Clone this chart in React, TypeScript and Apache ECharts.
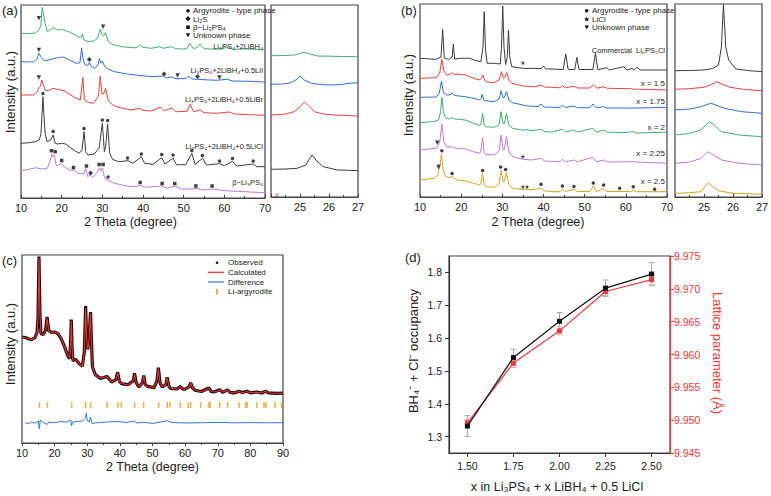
import React, { useEffect, useRef } from 'react';
import * as echarts from 'echarts';

const FONT = '"Liberation Sans", Arial, Helvetica, sans-serif';

// ---------- colours ----------
const GREEN = '#3fb06a';
const BLUE = '#2f6fd6';
const RED = '#e8423f';
const DARK = '#3c3c3c';
const PURPLE = '#bb7ad8';
const GOLD = '#d6a322';

// ---------- panel (a): 2θ vs intensity (a.u., offset stacked) ----------
const aLiBH4 = [[10,164.7],[12,164.5],[13.5,165],[14.2,167],[14.6,170],[14.9,173],[15.2,190.7],[15.5,185],[15.9,174.7],[16.5,166.3],[17.3,168.5],[18,170.3],[19,168],[20,168.7],[21,167.3],[22,165.7],[23,163.7],[24,161.3],[24.8,160.7],[25.1,164],[25.5,158],[26,157],[27,156.3],[28,157.3],[28.8,159.7],[29.5,168.7],[30.0,163],[30.3,162],[30.8,165.3],[31.5,156.3],[32,154.7],[33,153],[35,151.3],[37,150.3],[38.5,150.3],[39.2,153],[40,150.7],[42,149.7],[44.2,151.3],[45,149.7],[47,151.3],[48,149.3],[50,149],[50.8,149.5],[51.5,154.7],[52.3,149.7],[53.2,150],[54,154],[55,149.3],[58,148.7],[61,150.7],[62,148.7],[66,149],[70,148]];
const aLiI = [[10,136.3],[13,136],[13.9,138.7],[14.4,144.7],[15,140.7],[15.6,137.7],[16.5,137.7],[18,139.3],[19.5,140.7],[20.5,140.7],[22,138],[23.5,134.7],[24.5,135.3],[24.9,149.7],[25.3,138],[25.8,133],[26.4,132.7],[26.8,135.3],[27.3,131.3],[28.2,129.7],[28.9,133],[29.3,139.3],[29.6,134.7],[30.0,137],[30.6,131.3],[31.5,128.7],[33,126.3],[36,124],[39,122.7],[42,121.3],[45,122],[45.5,120],[47,121],[48,119.3],[50.5,119.5],[51.3,121.7],[52,119],[55,118.3],[58,117.7],[60.7,118.7],[62,117],[66,116.7],[70,116]];
const aLiBr = [[10,103],[13,103],[14,106.3],[14.5,110.7],[14.8,112],[15.1,118],[15.5,113],[16,107.3],[17,108],[17.9,109.7],[19,108.7],[20.5,107.3],[22,103.7],[23.5,99.7],[24.6,98],[25.2,120.7],[25.6,98],[26.5,95.7],[27.8,94.7],[29.0,101.3],[29.5,122],[29.9,104],[30.4,104.7],[30.8,109.7],[31.4,98],[32.5,93],[34,90.7],[37,88],[39.2,89.7],[40,87.7],[42,87],[44.3,91],[45.2,87.3],[47.1,90],[48,86.3],[50.8,86.7],[51.6,93.7],[52.4,86.3],[54,88],[55,85.3],[58,84.7],[61.3,86],[62.5,84],[66,83.3],[70,82.7]];
const aLiCl = [[10,54.7],[12,55.3],[13.5,56.3],[14.5,58],[14.9,64],[15.15,82],[15.4,101.3],[15.65,82],[15.95,64],[16.4,56.3],[17.3,58],[17.9,63],[18.4,54.7],[19,54],[20,54.7],[21,54],[22,50.7],[23,48],[24.3,44.7],[25.0,48],[25.5,66.3],[25.9,46.3],[26.5,43],[28,44],[29.2,49.7],[30.0,74.7],[30.5,46.3],[30.8,51.3],[31.3,74],[31.8,44.7],[32.5,38.7],[34,36.3],[36.3,37.3],[37.5,34.7],[39.6,41.3],[40.4,34.7],[42.5,33.7],[44.6,40.3],[45.4,34],[47.4,40],[48.2,33.3],[50.5,33.3],[52.0,44.7],[52.8,33.7],[54.7,39.7],[55.6,33],[58.8,34.3],[60,32.3],[62,36.7],[63,32],[67.1,34],[68,31.3],[70,31.3]];
const aBeta = [[10,27.3],[12,28.7],[13.6,30.3],[15,29],[16.5,29.7],[17.2,38],[17.6,43.7],[17.9,41.3],[18.2,43],[18.7,32],[19.3,33],[19.9,34.7],[20.6,31.3],[22,28],[23,28],[24,24.7],[25.4,24],[25.9,29.7],[26.4,21.3],[27,23],[27.6,20.7],[28.6,24.7],[29.3,30.3],[29.6,27.3],[30.0,30],[30.6,19.7],[31.3,18],[33,14.7],[36,12],[38,11.3],[39.2,12.7],[40.5,10.7],[44.6,12],[46,9.7],[47.9,12],[49.5,8.7],[53,9.5],[55,8],[57.1,9],[60,7.3],[65,6.3],[70,5.3]];
const aCircleMarks = [[15.4,104.5],[17.9,66.5],[25.5,69.5],[30.0,78],[31.3,77.5],[36.2,40],[39.6,44],[44.6,43.5],[47.4,43],[52.0,47.5],[54.6,42.5],[58.8,37],[62,39.5],[67.1,37],[31.4,21]];
const aDiamondMarks = [[26.8,138.5],[45.2,124],[53.4,121.5],[27.1,25]];
const aSquareMarks = [[17.5,47.3],[18.4,46.3],[20.0,37.5],[22.9,30.5],[26.1,32],[29.2,33.5],[30.2,33.5],[39.3,15.5],[44.7,14.5],[47.8,14.5],[53.0,12],[57.0,12]];
const aTriangleMarks = [[14.4,179.7],[30.2,171.3],[14.4,148],[48.5,122.5],[58.8,120.5],[14.4,120.5]];
const aInsetLiBH4 = [[24,141.3],[24.5,141.5],[24.8,142],[25.0,143.5],[25.15,144.7],[25.3,143.5],[25.6,141],[26,140.8],[26.5,140.5],[27,140.3]];
const aInsetLiI = [[24,112.7],[24.4,113],[24.7,114.3],[24.9,118],[25.0,121],[25.15,117],[25.4,113.7],[25.7,112.5],[26,112],[26.4,112.5],[26.7,113.7],[27,114.3]];
const aInsetLiBr = [[24,82],[24.5,83],[24.8,85.3],[25.0,90],[25.15,95.3],[25.3,91],[25.5,85.3],[25.8,83],[26.2,82],[26.6,81.5],[27,81]];
const aInsetLiCl = [[24,27.7],[24.5,28],[24.9,28.7],[25.2,32],[25.3,37],[25.42,42],[25.55,37],[25.8,30.3],[26.3,27],[26.7,26.7],[27,26.3]];

// ---------- panel (b) ----------
const bCommercial = [[10,138.7],[14,137.7],[15.1,140],[15.5,167.7],[15.9,139],[17,137.5],[17.8,140],[18.1,153],[18.4,138],[20,138.7],[22,138.7],[23.5,136.5],[24.8,135.3],[25.3,150],[25.6,185.3],[25.9,148],[26.3,133.7],[28,133.7],[29.5,133],[29.8,150],[30.1,191],[30.4,150],[30.8,132.5],[31.2,140],[31.5,167],[31.8,140],[32.3,130.3],[35,128.7],[39.5,128.5],[40,131],[40.5,128.2],[44.8,127.5],[45.4,143],[46,127.5],[47.6,127.5],[48.1,139.7],[48.6,127.5],[52,127.5],[52.6,143.7],[53.2,127.3],[55.4,129.3],[56,127],[59.5,130.3],[60.2,127],[61.5,128.5],[62.1,127.2],[62.7,129.7],[63.5,127],[70,127]];
const bX150 = [[10,118.7],[14,119.3],[14.8,124],[15.3,137.7],[15.8,126],[16.5,122],[17.3,122.5],[17.8,124.3],[18.4,122.5],[19,123],[21,122],[23,118.7],[24.5,117],[24.9,119],[25.3,122],[25.7,117],[26,115.3],[28,114.3],[29.2,117],[29.8,125.3],[30.3,118.7],[30.6,119.5],[31.1,124.3],[31.6,117],[32.3,113.7],[35,111],[38,110.3],[39.5,112],[40.3,109.8],[42,109.7],[44,109.3],[44.6,111.3],[45.3,109.2],[47.4,110.7],[48.2,109],[51.3,109],[52.1,112.3],[53,108.8],[54.6,110.3],[55.5,108.7],[61.1,108.3],[62,107.8],[66,107.5],[70,107]];
const bX175 = [[10,99.7],[14,100],[14.7,104],[15.2,116],[15.7,104],[16.5,102],[17.3,102.3],[17.8,103.7],[18.4,101.5],[19.5,101],[21,100.3],[23,98.7],[24.5,97],[24.8,98.5],[25.1,102.7],[25.5,97],[26,96.3],[28,95.3],[29.2,98],[29.7,106.3],[30.2,99],[30.5,99.5],[31.0,105.3],[31.6,97],[32.5,94.3],[36,91],[38.7,90.5],[39.4,93],[40.2,90],[42,89.7],[44,89.5],[44.6,92],[45.3,89.5],[47.4,91],[48.2,89.3],[51.3,89.3],[52.0,93],[52.8,89.2],[54.6,90.3],[55.5,89],[62,88.9],[69.6,89.6],[70,88.7]];
const bX200 = [[10,74.3],[13.5,75.5],[14.5,77],[15.0,85],[15.3,99.7],[15.7,85],[16.2,79],[17.2,78],[17.8,79.3],[18.4,78],[19.5,77.7],[21,77],[23,73.7],[24.5,71.3],[24.8,73],[25.2,83.7],[25.6,72],[26,70.3],[28,69.7],[29.2,72],[29.7,85.3],[30.2,73],[30.5,73.5],[31.0,83.7],[31.6,72],[32.5,68.7],[35,66.8],[36,67.5],[37,66.3],[39.4,67.7],[40.2,65.5],[42,65],[44.6,67.7],[45.4,65],[47.4,67],[48.2,64.9],[52.0,68.7],[52.8,64.8],[54.6,67],[55.5,64.8],[58.6,64.5],[60,64.5],[61.8,65.3],[62.6,64],[69.7,64.8],[70,63.7]];
const bX225 = [[10,47],[14,48.7],[14.8,55],[15.3,73],[15.8,55],[16.4,50.3],[17.2,50],[17.8,50.3],[18.4,49],[19,48.7],[21,48],[23,45.3],[24.5,43.7],[24.8,46],[25.2,59.7],[25.6,44],[26,42.7],[28,42],[29.2,46],[29.7,62],[30.2,47],[30.5,47.5],[31.0,60.3],[31.6,45],[32.5,40.3],[35,37.7],[37,37],[39.4,38.7],[40.2,36],[42,35.7],[44,35.3],[44.6,37.7],[45.4,35.3],[47.4,37],[48.2,35.2],[52.0,39.7],[52.8,35.2],[54.6,37],[55.5,35],[61.8,35.3],[65,34.5],[70,33.7]];
const bX250 = [[10,17],[13.5,18.7],[14.3,22],[14.6,27],[14.9,33],[15.2,43],[15.6,28],[16.2,20.3],[17.2,19.5],[17.8,20.5],[18.4,18.5],[19,17],[21,16],[23,13.7],[24.5,12],[24.8,14],[25.2,23.7],[25.6,12],[26,10.3],[28,9.7],[29.2,13],[29.7,27],[30.2,15],[30.5,15.5],[31.0,24.3],[31.6,12.5],[32.5,8.7],[35,7.5],[36,7.8],[37,7],[39.4,9],[40.2,6.3],[42,5.3],[44,5.3],[44.6,8],[45.4,5.5],[47.4,7.7],[48.2,5.5],[51.3,5.5],[52.1,11],[52.8,5.5],[54.6,8.7],[55.4,5.5],[61.1,5.5],[61.8,7],[62.5,5.3],[70,5.3]];
const bCircleMarks = [[15.3,46.3],[17.8,23.5],[25.2,26.5],[29.6,30],[30.8,27.5],[39.4,12.7],[44.6,11],[47.4,10.5],[52.1,14],[54.6,12],[58.5,8.7],[61.8,10.3],[67,7.7]];
const bStarMarks = [[35,134.3],[35,40.5],[35,10.3],[36,10.3]];
const bTriangleMarks = [[14.2,54.3],[14.5,30]];
const bInsetCommercial = [[24,126.3],[24.5,126.5],[25.0,127],[25.3,128.5],[25.5,132],[25.6,150],[25.67,192.5],[25.75,150],[25.85,137],[26.1,128],[26.5,126.5],[27,125.3]];
const bInsetX150 = [[24,107.7],[24.5,108.3],[25.0,109.7],[25.25,112.5],[25.45,115.3],[25.65,112.5],[25.9,109.7],[26.4,107.5],[27,106.3]];
const bInsetX175 = [[24,87],[24.5,88],[24.9,90.3],[25.1,92.5],[25.25,93.7],[25.45,91.5],[25.7,88.7],[26.3,85.3],[27,83.7]];
const bInsetX200 = [[24,62],[24.5,63.5],[24.9,67],[25.1,73],[25.2,75],[25.35,72],[25.6,65.3],[26.2,62],[27,60.3]];
const bInsetX225 = [[24,33.7],[24.5,35],[24.9,38.7],[25.05,43],[25.15,45.3],[25.3,42.5],[25.6,37],[26.2,33.7],[27,32]];
const bInsetX250 = [[24,3.7],[24.5,4.3],[24.9,5.3],[25.05,11],[25.15,14.3],[25.3,10.5],[25.5,6.3],[26,3.7],[27,2.7]];

// ---------- panel (c): Rietveld ----------
const cObserved = [[10,106],[11,105.5],[12,104.3],[13,103.3],[14,105.5],[14.6,110.5],[14.9,126],[15.2,186.5],[15.5,131],[15.8,109.5],[16.5,108.3],[17.2,112.5],[17.7,126],[18.2,112.3],[19,110.6],[20,111],[21,109.4],[22,104.4],[23,96.6],[24,87.6],[24.6,84.3],[24.9,101],[25.1,123.5],[25.35,95.5],[25.6,82.6],[26.5,83.4],[27.5,79.4],[28.5,76.6],[29.1,91],[29.5,137],[29.8,106],[30.1,93.5],[30.5,101],[31.0,131],[31.3,101],[31.6,76],[32.5,68.3],[34,64.4],[36,66.6],[37.5,61],[38.8,63.3],[39.3,70.8],[39.9,61.3],[40.5,59.4],[42.5,58.3],[44.1,62.3],[44.5,69.6],[45.0,60.3],[45.8,56],[46.9,60.3],[47.3,67.4],[47.8,58.2],[48.5,56.6],[50.5,55.4],[51.4,62.3],[51.8,75.3],[52.3,60.3],[53,56],[54.1,58.3],[54.5,65.8],[55,57.2],[55.5,54.5],[57.5,54],[58.6,56.6],[59.3,53.8],[60,53.9],[61.2,56.2],[61.7,60.2],[62.3,55.2],[63,52.8],[65,51.5],[67.3,55],[68,51.3],[69,51.2],[70.7,53.2],[71.5,50.6],[73,53.2],[73.8,50.7],[75,50.1],[76.5,51.7],[77.5,50.5],[79,51.7],[80,50.1],[82,51],[83.5,50],[84.6,51.9],[85.5,50.2],[88,49.6],[90,49.9]];
const cCalculated = [[10,105.7],[11,105.2],[12,104.7],[13,103],[14,105.7],[14.6,110],[14.9,125],[15.2,184.7],[15.5,130],[15.8,109.7],[16.5,108],[17.2,112],[17.7,124.7],[18.2,112],[19,110.3],[20,111.3],[21,109.7],[22,104.7],[23,96.3],[24,88],[24.6,84.7],[24.9,100],[25.1,122.3],[25.35,95],[25.6,83],[26.5,83],[27.5,79.7],[28.5,76.3],[29.1,90],[29.5,134.7],[29.8,105],[30.1,93],[30.5,100],[31.0,129.7],[31.3,100],[31.6,76.3],[32.5,68],[34,64.7],[36,66.3],[37.5,61.3],[38.8,63],[39.3,70.3],[39.9,61],[40.5,59.7],[42.5,58],[44.1,62],[44.5,69],[45.0,60],[45.8,56.3],[46.9,60],[47.3,67],[47.8,58],[48.5,56.3],[50.5,55.7],[51.4,62],[51.8,74.7],[52.3,60],[53,56.3],[54.1,58],[54.5,65.3],[55,57],[55.5,54.7],[57.5,53.7],[58.6,56.3],[59.3,54],[60,53.7],[61.2,56],[61.7,59.7],[62.3,55],[63,53],[65,51.3],[67.3,54.7],[68,51.5],[69,51],[70.7,53],[71.5,50.8],[73,53],[73.8,50.5],[75,50.3],[76.5,51.5],[77.5,50.3],[79,51.5],[80,50.3],[82,50.8],[83.5,50.2],[84.6,51.7],[85.5,50],[88,49.8],[90,49.7]];
const cDifference = [[11,20],[12,19.5],[13,21],[14,19.8],[15,22],[15.3,14],[15.6,23],[16.5,20.5],[17.7,18.5],[18.2,21],[20,20.3],[22,21.5],[23.5,20.8],[25,23],[25.2,17],[25.5,21],[27,21.5],[28.5,22],[29.5,25],[29.7,30],[30.0,22],[30.6,21],[31.0,26],[31.4,19.5],[33,20.3],[36,21],[39.3,21.5],[42,20.5],[44.5,22],[45,20],[47.3,20.8],[50,19.5],[54.5,22.3],[56,20.5],[60,20],[65,20.3],[70,20.6],[75,20.2],[80,20.4],[85,20.2],[90,20.4]];
const cReflections = [15.31,17.76,25.22,29.51,31.04,36.05,39.42,40.44,44.52,47.28,51.88,54.53,55.35,58.52,60.97,61.69,64.75,67.2,67.71,70.57,73.02,76.49,78.54,79.05,82.01,84.16,84.77,87.53,89.57];
const cReflectionLevel = 38;

// ---------- panel (d) ----------
const dX = [1.5, 1.75, 2.0, 2.25, 2.5];
const dOccupancy = [1.332, 1.541, 1.651, 1.752, 1.795];
const dOccupancyErr = [0.032, 0.025, 0.027, 0.025, 0.035];
const dLattice = [9.9496, 9.9587, 9.9636, 9.9696, 9.9714];
const dLatticeErr = [0.0005, 0.0007, 0.0006, 0.0006, 0.0008];
const dXTicks = [1.5, 1.75, 2.0, 2.25, 2.5];
const dOccTicks = [1.3, 1.4, 1.5, 1.6, 1.7, 1.8];

const STAR = 'path://M50,0 L61,35 98,35 68,57 79,91 50,70 21,91 32,57 2,35 39,35 Z';

function line(data: number[][], color: string, g: number, width = 1, z = 2) {
  return {
    type: 'line', xAxisIndex: g, yAxisIndex: g, data, showSymbol: false, symbol: 'none',
    lineStyle: { color, width }, itemStyle: { color }, silent: true, z,
  };
}
function marks(data: number[][], symbol: string, size: number | number[], g: number, rotate = 0, color = '#111') {
  return {
    type: 'scatter', xAxisIndex: g, yAxisIndex: g, data, symbol, symbolSize: size, symbolRotate: rotate,
    itemStyle: { color }, silent: true, z: 5,
  };
}
function txt(x: number, y: number, text: string, size: number, align = 'left', fill = '#222', rotation = 0) {
  return {
    type: 'text', x, y, rotation, silent: true, z: 10,
    style: {
      text, fill, font: `${size}px ${FONT}`, fontSize: size, fontFamily: FONT,
      align, verticalAlign: 'middle', textAlign: align, textVerticalAlign: 'middle',
    },
  };
}

const axisFont = { fontFamily: FONT, color: '#222' };

function xThetaAxis(g: number, min: number, max: number, interval: number, hideBelow?: number) {
  return {
    type: 'value', gridIndex: g, min, max, interval,
    axisLine: { show: true, lineStyle: { color: '#444', width: 1.2 } },
    axisTick: { show: true, inside: true, length: 3, lineStyle: { color: '#444' } },
    minorTick: { show: true, splitNumber: 2, length: 2, lineStyle: { color: '#444' } },
    splitLine: { show: false }, minorSplitLine: { show: false },
    axisLabel: {
      ...axisFont, fontSize: 11, margin: 4,
      formatter: (v: number) => (hideBelow !== undefined && v < hideBelow ? '' : String(v)),
    },
  };
}
function hiddenY(g: number, max: number) {
  return { type: 'value', gridIndex: g, min: 0, max, show: false, splitLine: { show: false } };
}
function grid(left: number, top: number, width: number, height: number) {
  return {
    left, top, width, height, show: true, borderColor: '#444', borderWidth: 1.2,
    containLabel: false, outerBoundsMode: 'none',
  };
}

function errorBars(data: number[][], color: string, xi: number, yi: number) {
  return {
    type: 'custom', xAxisIndex: xi, yAxisIndex: yi, data, silent: true, z: 1,
    encode: { x: 0, y: 1 },
    renderItem: (_p: any, api: any) => {
      const x = api.value(0), y = api.value(1), e = api.value(2);
      const a = api.coord([x, y + e]);
      const b = api.coord([x, y - e]);
      const w = 3;
      const st = { stroke: color, lineWidth: 1 };
      return {
        type: 'group',
        children: [
          { type: 'line', shape: { x1: a[0], y1: a[1], x2: b[0], y2: b[1] }, style: st },
          { type: 'line', shape: { x1: a[0] - w, y1: a[1], x2: a[0] + w, y2: a[1] }, style: st },
          { type: 'line', shape: { x1: b[0] - w, y1: b[1], x2: b[0] + w, y2: b[1] }, style: st },
        ],
      };
    },
  };
}

export default function App() {
  const ref = useRef<HTMLDivElement>(null);
  useEffect(() => {
    if (!ref.current) return;
    const chart = echarts.init(ref.current, undefined, { renderer: 'svg' });
    const D_RED = '#f03a3a';
    const option: any = {
      animation: false,
      backgroundColor: '#fff',
      grid: [
        grid(21, 5, 244, 193),   // a main
        grid(271, 5, 87, 192),   // a inset
        grid(420, 4, 247, 193),  // b main
        grid(675, 4, 87, 193),   // b inset
        grid(22, 255, 261, 188), // c
        grid(449, 256, 221, 197),// d
      ],
      xAxis: [
        xThetaAxis(0, 10, 70, 10),
        xThetaAxis(1, 24, 27, 1, 25),
        xThetaAxis(2, 10, 70, 10),
        xThetaAxis(3, 24, 27, 1, 25),
        { ...xThetaAxis(4, 10, 90, 10), axisTick: { show: true, inside: false, length: 3, lineStyle: { color: '#444' } } },
        {
          type: 'value', gridIndex: 5, min: 1.4, max: 2.6,
          axisLine: { show: true, lineStyle: { color: '#333', width: 1.2 } },
          axisTick: { show: true, inside: false, length: 4, customValues: dXTicks, lineStyle: { color: '#333' } },
          splitLine: { show: false },
          axisLabel: { ...axisFont, fontSize: 10.5, margin: 7, customValues: dXTicks, formatter: (v: number) => v.toFixed(2) },
        },
      ],
      yAxis: [
        hiddenY(0, 193), hiddenY(1, 192), hiddenY(2, 193), hiddenY(3, 193), hiddenY(4, 188),
        {
          type: 'value', gridIndex: 5, min: 1.25, max: 1.85, position: 'left',
          axisLine: { show: true, lineStyle: { color: '#333', width: 1.2 } },
          axisTick: { show: true, inside: false, length: 4, customValues: dOccTicks, lineStyle: { color: '#333' } },
          splitLine: { show: false },
          axisLabel: { ...axisFont, fontSize: 10.5, margin: 7, customValues: dOccTicks, formatter: (v: number) => v.toFixed(1) },
        },
        {
          type: 'value', gridIndex: 5, min: 9.945, max: 9.975, interval: 0.005, position: 'right',
          axisLine: { show: true, lineStyle: { color: D_RED, width: 1.2 } },
          axisTick: { show: true, inside: false, length: 4, lineStyle: { color: D_RED } },
          splitLine: { show: false },
          axisLabel: { fontFamily: FONT, color: D_RED, fontSize: 10.5, margin: 4, formatter: (v: number) => v.toFixed(3) },
        },
      ],
      series: [
        // (a)
        line(aBeta, PURPLE, 0), line(aLiCl, DARK, 0), line(aLiBr, RED, 0), line(aLiI, BLUE, 0), line(aLiBH4, GREEN, 0),
        marks(aCircleMarks, 'circle', 3.5, 0),
        marks(aDiamondMarks, 'diamond', 5, 0),
        marks(aSquareMarks, 'rect', 3.5, 0),
        marks(aTriangleMarks, 'triangle', 4.5, 0, 180),
        line(aInsetLiCl, DARK, 1), line(aInsetLiBr, RED, 1), line(aInsetLiI, BLUE, 1), line(aInsetLiBH4, GREEN, 1),
        // (b)
        line(bX250, GOLD, 2), line(bX225, PURPLE, 2), line(bX200, GREEN, 2), line(bX175, BLUE, 2), line(bX150, RED, 2), line(bCommercial, DARK, 2),
        marks(bCircleMarks, 'circle', 3.5, 2),
        marks(bStarMarks, STAR, 4.5, 2),
        marks(bTriangleMarks, 'triangle', 4.5, 2, 180),
        line(bInsetX250, GOLD, 3), line(bInsetX225, PURPLE, 3), line(bInsetX200, GREEN, 3), line(bInsetX175, BLUE, 3), line(bInsetX150, RED, 3), line(bInsetCommercial, DARK, 3),
        // (c)
        { ...line(cObserved, '#111', 4, 3.2, 2), name: 'Observed' },
        { ...line(cCalculated, '#ff2a2a', 4, 1.1, 3), name: 'Calculated' },
        { ...line(cDifference, '#2f7ad8', 4, 1, 3), name: 'Difference' },
        {
          ...marks(cReflections.map((v) => [v, cReflectionLevel]), 'rect', [1.6, 6], 4, 0, '#e0a526'),
          name: 'Li-argyrodite',
        },
        // (d)
        errorBars(dX.map((x, i) => [x, dOccupancy[i], dOccupancyErr[i]]), '#a8a8a8', 5, 5),
        errorBars(dX.map((x, i) => [x, dLattice[i], dLatticeErr[i]]), '#f6a3a3', 5, 6),
        {
          type: 'line', xAxisIndex: 5, yAxisIndex: 5, data: dX.map((x, i) => [x, dOccupancy[i]]),
          symbol: 'rect', symbolSize: 5, lineStyle: { color: '#111', width: 1.2 }, itemStyle: { color: '#111' }, z: 4,
        },
        {
          type: 'line', xAxisIndex: 5, yAxisIndex: 6, data: dX.map((x, i) => [x, dLattice[i]]),
          symbol: 'rect', symbolSize: 5, lineStyle: { color: D_RED, width: 1.2 }, itemStyle: { color: D_RED }, z: 3,
        },
      ],
      graphic: [
        // panel letters
        txt(2, 10, '(a)', 13), txt(401, 10, '(b)', 13), txt(2, 260, '(c)', 13), txt(405, 257, '(d)', 13),
        // axis names
        txt(10.5, 92, 'Intensity (a.u.)', 13, 'center', '#222', Math.PI / 2),
        txt(130.5, 222, '2 Theta (degree)', 12.5, 'center'),
        txt(408, 95, 'Intensity (a.u.)', 13, 'center', '#222', Math.PI / 2),
        txt(538, 222, '2 Theta (degree)', 12.5, 'center'),
        txt(10, 344, 'Intensity (a.u.)', 13, 'center', '#222', Math.PI / 2),
        txt(152.5, 467, '2 Theta (degree)', 12.5, 'center'),
        txt(413, 351, 'BH₄⁻ + Cl⁻ occupancy', 13, 'center', '#222', Math.PI / 2),
        txt(717, 353, 'Lattice parameter (Å)', 13, 'center', D_RED, -Math.PI / 2),
        txt(557, 487, 'x in Li₃PS₄ + x LiBH₄ + 0.5 LiCl', 12.5, 'center'),
        // (a) legend
        { type: 'circle', shape: { cx: 188, cy: 10.7, r: 1.8 }, style: { fill: '#111' }, silent: true },
        txt(193, 10.7, 'Argyrodite - type phase', 8),
        { type: 'polygon', shape: { points: [[188, 16], [190.5, 18.7], [188, 21.4], [185.5, 18.7]] }, style: { fill: '#111' }, silent: true },
        txt(193, 19, 'Li₂S', 8),
        { type: 'rect', shape: { x: 186.2, y: 25.4, width: 3.6, height: 3.6 }, style: { fill: '#111' }, silent: true },
        txt(193, 27.3, 'β−Li₃PS₄', 8),
        { type: 'polygon', shape: { points: [[185.8, 33.3], [190.2, 33.3], [188, 37.2]] }, style: { fill: '#111' }, silent: true },
        txt(193, 35.3, 'Unknown phase', 8),
        // (a) curve labels
        txt(263, 46.7, 'Li₃PS₄+2LiBH₄', 7.5, 'right'),
        txt(263, 70, 'Li₃PS₄+2LiBH₄+0.5LiI', 7.5, 'right'),
        txt(263, 99.3, 'Li₃PS₄+2LiBH₄+0.5LiBr', 7.5, 'right'),
        txt(263, 146.7, 'Li₃PS₄+2LiBH₄+0.5LiCl', 7.5, 'right'),
        txt(263, 182.7, 'β−Li₃PS₄', 7.5, 'right'),
        txt(277, 194.5, '//', 6, 'center'),
        // (b) legend
        { type: 'circle', shape: { cx: 586.7, cy: 10.7, r: 1.8 }, style: { fill: '#111' }, silent: true },
        txt(592, 10.7, 'Argyrodite - type phase', 8),
        { type: 'polygon', shape: { points: [[586.7, 16.6], [587.5, 18.5], [589.4, 18.6], [587.9, 19.8], [588.4, 21.6], [586.7, 20.5], [585, 21.6], [585.5, 19.8], [584, 18.6], [585.9, 18.5]] }, style: { fill: '#111' }, silent: true },
        txt(592, 19, 'LiCl', 8),
        { type: 'polygon', shape: { points: [[584.5, 25.4], [588.9, 25.4], [586.7, 29.3]] }, style: { fill: '#111' }, silent: true },
        txt(592, 27.3, 'Unknown phase', 8),
        // (b) curve labels
        txt(665, 50.7, 'Commercial  Li₆PS₅Cl', 7.5, 'right'),
        txt(665, 83.3, 'x = 1.5', 8, 'right'),
        txt(665, 101.7, 'x = 1.75', 8, 'right'),
        txt(665, 127.3, 'x = 2', 8, 'right'),
        txt(665, 153.3, 'x = 2.25', 8, 'right'),
        txt(665, 181.7, 'x = 2.5', 8, 'right'),
        // (c) legend
        { type: 'circle', shape: { cx: 217, cy: 262.7, r: 1.3 }, style: { fill: '#111' }, silent: true },
        txt(228, 262.7, 'Observed', 8),
        { type: 'line', shape: { x1: 208, y1: 272.3, x2: 224, y2: 272.3 }, style: { stroke: '#ff2a2a', lineWidth: 1.2 }, silent: true },
        txt(228, 272.3, 'Calculated', 8),
        { type: 'line', shape: { x1: 208, y1: 282, x2: 224, y2: 282 }, style: { stroke: '#2f7ad8', lineWidth: 1.2 }, silent: true },
        txt(228, 282, 'Difference', 8),
        { type: 'rect', shape: { x: 216.2, y: 288.7, width: 1.6, height: 6 }, style: { fill: '#e0a526' }, silent: true },
        txt(228, 291.7, 'Li-argyrodite', 8),
      ],
    };
    chart.setOption(option);
    return () => chart.dispose();
  }, []);
  return <div ref={ref} style={{ position: 'absolute', left: 0, top: 0, width: 771, height: 496 }} />;
}
